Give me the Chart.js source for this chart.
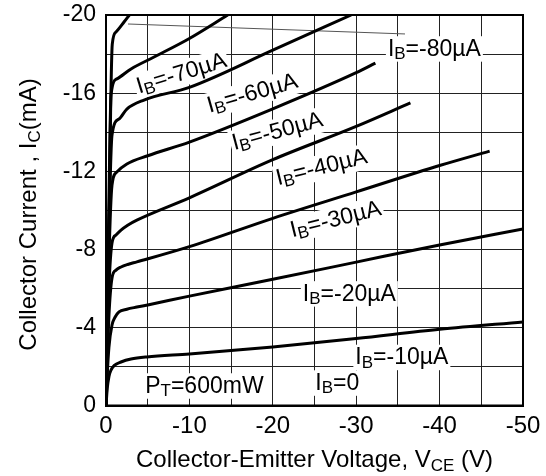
<!DOCTYPE html>
<html>
<head>
<meta charset="utf-8">
<script src="https://cdn.jsdelivr.net/npm/chart.js@4"></script>
<style>
  html, body { margin: 0; padding: 0; background: #fff; }
  #wrap { width: 546px; height: 476px; }
</style>
</head>
<body>
<div id="wrap"><canvas id="chart"></canvas></div>
<script>
// Collector current curves, one pair of arrays per base current (V, mA)
const vce0 = [0, -50];
const ic0 = [0, 0];

const vce10 = [0, -0.15, -0.35, -0.6, -1.0, -1.8, -3, -4.9, -10, -20, -30, -40, -50];
const ic10 = [0, -0.9, -1.5, -1.84, -2.08, -2.25, -2.4, -2.51, -2.66, -3.02, -3.45, -3.92, -4.3];

const vce20 = [0, -0.15, -0.35, -0.72, -1.1, -1.56, -2.5, -3.7, -5, -10, -20, -30, -40, -50];
const ic20 = [0, -1.6, -3.0, -4.14, -4.55, -4.81, -4.95, -5.06, -5.17, -5.62, -6.48, -7.36, -8.24, -9.05];

const vce30 = [0, -0.15, -0.35, -0.72, -1.2, -1.8, -2.6, -3.7, -10, -20, -30, -40, -46];
const ic30 = [0, -2.2, -4.6, -6.55, -6.95, -7.11, -7.24, -7.37, -8.15, -9.6, -10.95, -12.3, -13.04];

const vce40 = [0, -0.15, -0.35, -0.72, -1.2, -1.8, -2.6, -3.7, -10, -20, -30, -36.5];
const ic40 = [0, -2.8, -6.0, -8.34, -8.75, -9.0, -9.25, -9.51, -10.65, -12.6, -14.3, -15.5];

const vce50 = [0, -0.15, -0.35, -0.72, -1.3, -2.5, -5, -10, -20, -30, -32.3];
const ic50 = [0, -3.5, -7.5, -11.3, -11.97, -12.38, -12.8, -13.5, -15.2, -17.05, -17.54];

const vce60 = [0, -0.15, -0.35, -0.72, -1.56, -2.5, -4.56, -10, -20, -29.4];
const ic60 = [0, -4.2, -9.0, -13.86, -14.68, -15.19, -15.65, -16.3, -18.2, -20.0];

const vce70 = [0, -0.15, -0.35, -0.6, -1.3, -3.0, -5.76, -10, -14.6];
const ic70 = [0, -5, -10.5, -15.91, -16.73, -17.24, -17.85, -18.8, -20];

const vce80 = [0, -0.2, -0.4, -0.55, -0.75, -1.2, -2.16, -2.8];
const ic80 = [0, -5, -10, -15, -18.5, -19.13, -19.64, -20];

// axis tick labels
const xTicks = [0, -10, -20, -30, -40, -50];
const yTicks = [0, -4, -8, -12, -16, -20];

// curve labels: text parts [text, subscript], anchor (V, mA), angle
const curveLabels = [
  { parts: [['I', 0], ['B', 1], ['=-70µA', 0]], v: -9.0, i: -17.08, angle: -17, align: 'center' },
  { parts: [['I', 0], ['B', 1], ['=-60µA', 0]], v: -17.5, i: -16.06, angle: -16, align: 'center' },
  { parts: [['I', 0], ['B', 1], ['=-50µA', 0]], v: -20.5, i: -14.12, angle: -15, align: 'center' },
  { parts: [['I', 0], ['B', 1], ['=-40µA', 0]], v: -25.8, i: -12.28, angle: -14, align: 'center' },
  { parts: [['I', 0], ['B', 1], ['=-30µA', 0]], v: -27.5, i: -9.62, angle: -14, align: 'center' },
  { parts: [['I', 0], ['B', 1], ['=-80µA', 0]], v: -33.8, i: -18.34, angle: 0, align: 'left' },
  { parts: [['I', 0], ['B', 1], ['=-20µA', 0]], v: -23.6, i: -5.81, angle: 0, align: 'left' },
  { parts: [['I', 0], ['B', 1], ['=-10µA', 0]], v: -29.9, i: -2.56, angle: 0, align: 'left' },
  { parts: [['I', 0], ['B', 1], ['=0', 0]], v: -25.1, i: -1.25, angle: 0, align: 'left' },
  { parts: [['P', 0], ['T', 1], ['=600mW', 0]], v: -4.7, i: -1.10, angle: 0, align: 'left' }
];
// leader line from the IB=-80µA curve to its label
const leadV = [-2.64, -35.85];
const leadI = [-19.54, -19.03];

const FONT = "'Liberation Sans', Arial, sans-serif";
const LABEL_SIZE = 23;

const curves = [
  [vce0, ic0], [vce10, ic10], [vce20, ic20], [vce30, ic30], [vce40, ic40],
  [vce50, ic50], [vce60, ic60], [vce70, ic70], [vce80, ic80]
];

function partFont(size, sub) {
  return (sub ? Math.round(size * 0.72) : size) + 'px ' + FONT;
}

function richWidth(ctx, parts, size) {
  let w = 0;
  parts.forEach(p => { ctx.font = partFont(size, p[1]); w += ctx.measureText(p[0]).width; });
  return w;
}

// draws text with subscripts, baseline at y, starting at x
function drawRich(ctx, parts, x, y, size) {
  ctx.textAlign = 'left';
  ctx.textBaseline = 'alphabetic';
  parts.forEach(p => {
    ctx.font = partFont(size, p[1]);
    ctx.fillText(p[0], x, p[1] ? y + size * 0.15 : y);
    x += ctx.measureText(p[0]).width;
  });
}

const overlay = {
  id: 'overlay',
  beforeDatasetsDraw(chart) {
    const { ctx, scales: { x, y } } = chart;
    ctx.save();
    ctx.strokeStyle = '#555';
    ctx.lineWidth = 1;
    ctx.beginPath();
    ctx.moveTo(x.getPixelForValue(leadV[0]), y.getPixelForValue(leadI[0]));
    ctx.lineTo(x.getPixelForValue(leadV[1]), y.getPixelForValue(leadI[1]));
    ctx.stroke();

    const cap = LABEL_SIZE * 0.716;
    curveLabels.forEach(l => {
      const w = richWidth(ctx, l.parts, LABEL_SIZE);
      const px = x.getPixelForValue(l.v);
      const py = y.getPixelForValue(l.i);
      ctx.save();
      ctx.translate(px, py);
      ctx.rotate(l.angle * Math.PI / 180);
      const x0 = l.align === 'center' ? -w / 2 : 0;
      ctx.fillStyle = '#fff';
      ctx.fillRect(x0 - 2, -cap / 2 - 3, w + 4, cap + 9);
      ctx.fillStyle = '#000';
      drawRich(ctx, l.parts, x0, cap / 2, LABEL_SIZE);
      ctx.restore();
    });
    ctx.restore();
  },
  afterDatasetsDraw(chart) {
    const { ctx, chartArea: a } = chart;
    ctx.save();
    ctx.strokeStyle = '#000';
    ctx.lineWidth = 2;
    ctx.strokeRect(a.left, a.top, a.right - a.left, a.bottom - a.top);

    ctx.fillStyle = '#000';
    const ts = 24;
    const xt = [['Collector-Emitter Voltage, V', 0], ['CE', 1], [' (V)', 0]];
    const wx = richWidth(ctx, xt, ts);
    drawRich(ctx, xt, (a.left + a.right) / 2 - wx / 2, 467, ts);

    const yt = [['Collector Current , I', 0], ['C', 1], ['(mA)', 0]];
    const wy = richWidth(ctx, yt, ts);
    ctx.translate(36, (a.top + a.bottom) / 2 + 4);
    ctx.rotate(-Math.PI / 2);
    drawRich(ctx, yt, -wy / 2, 0, ts);
    ctx.restore();
  }
};

new Chart(document.getElementById('chart'), {
  type: 'scatter',
  data: {
    datasets: curves.map(c => ({
      data: c[0].map((v, k) => ({ x: v, y: c[1][k] })),
      showLine: true,
      borderColor: '#000',
      borderWidth: 3,
      pointRadius: 0,
      fill: false,
      cubicInterpolationMode: 'monotone'
    }))
  },
  options: {
    responsive: true,
    maintainAspectRatio: false,
    animation: false,
    layout: { padding: { left: 0, right: 23, top: 15, bottom: 0 } },
    plugins: { legend: { display: false }, tooltip: { enabled: false } },
    scales: {
      x: {
        type: 'linear',
        min: -50,
        max: 0,
        reverse: true,
        afterFit: s => { s.height = 70; },
        grid: { color: '#222', lineWidth: 1, drawTicks: false },
        border: { display: false },
        ticks: {
          stepSize: 5,
          autoSkip: false,
          maxRotation: 0,
          padding: 4,
          color: '#000',
          font: { family: FONT, size: 24, lineHeight: 1.375 },
          callback: v => xTicks.includes(v) ? String(v) : ''
        }
      },
      y: {
        type: 'linear',
        min: -20,
        max: 0,
        reverse: true,
        afterFit: s => { s.width = 106; },
        grid: { color: '#222', lineWidth: 1, drawTicks: false },
        border: { display: false },
        ticks: {
          stepSize: 2,
          autoSkip: false,
          padding: 10,
          color: '#000',
          font: { family: FONT, size: 23, lineHeight: 0.4 },
          callback: v => yTicks.includes(v) ? String(v) : ''
        }
      }
    }
  },
  plugins: [overlay]
});
</script>
</body>
</html>
